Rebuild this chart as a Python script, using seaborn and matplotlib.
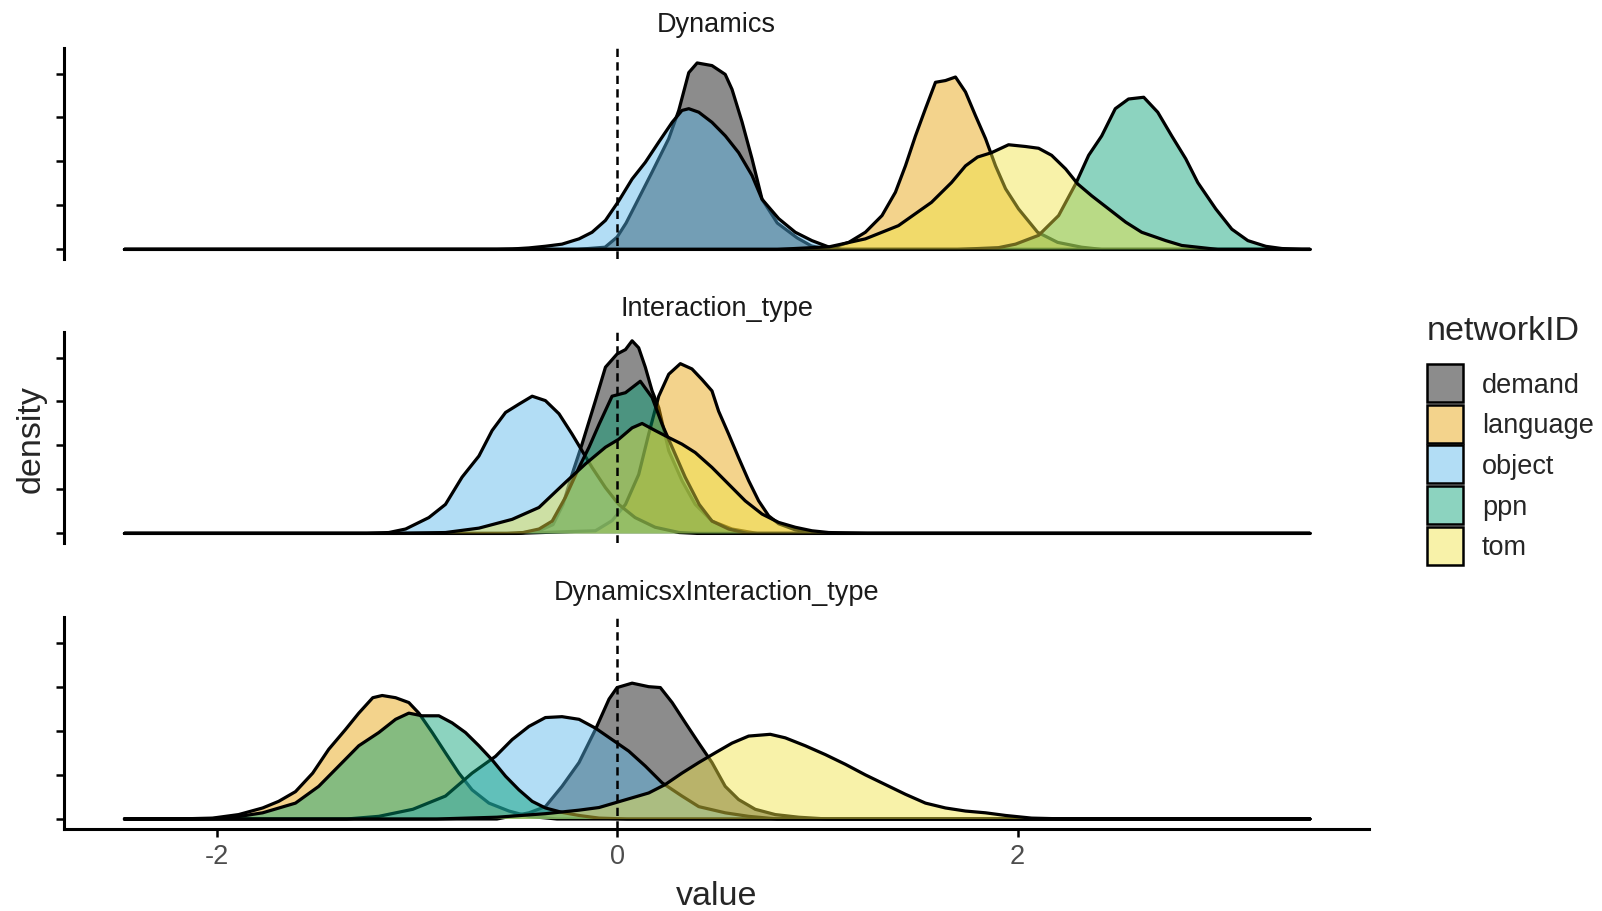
import numpy as np
import pandas as pd
import matplotlib
matplotlib.use("Agg")
import matplotlib.pyplot as plt
from matplotlib.patches import Patch
from matplotlib.colors import to_rgba
import seaborn as sns

# ---------------- data ----------------
panels = ["Dynamics", "Interaction_type", "DynamicsxInteraction_type"]
groups = ["demand", "language", "object", "ppn", "tom"]
group_colors = ["#000000", "#E69F00", "#56B4E9", "#009E73", "#F0E442"]
x_ticks = [-2, 0, 2]
x_tick_labels = ["-2", "0", "2"]
y_ticks = [0, 0.5, 1.0, 1.5, 2.0]
value_range = (-2.46, 3.46)
ref_line = 0

# Dynamics
dyn_demand_x = [-0.2, -0.06, 0.0, 0.045, 0.09, 0.175, 0.258, 0.308, 0.358, 0.40, 0.474, 0.54, 0.574, 0.624, 0.674, 0.724, 0.80, 0.90, 0.97, 1.05]
dyn_demand_y = [0.0, 0.025, 0.14, 0.30, 0.50, 0.88, 1.26, 1.58, 2.01, 2.12, 2.09, 1.99, 1.82, 1.45, 1.03, 0.57, 0.30, 0.13, 0.04, 0.0]
dyn_language_x = [0.95, 1.06, 1.157, 1.24, 1.323, 1.39, 1.44, 1.49, 1.54, 1.59, 1.64, 1.69, 1.74, 1.79, 1.84, 1.89, 1.94, 2.005, 2.10, 2.20, 2.32, 2.42]
dyn_language_y = [0.0, 0.01, 0.08, 0.195, 0.385, 0.65, 0.95, 1.29, 1.60, 1.90, 1.92, 1.96, 1.79, 1.52, 1.26, 0.95, 0.69, 0.46, 0.195, 0.08, 0.025, 0.0]
dyn_object_x = [-0.6, -0.524, -0.44, -0.358, -0.275, -0.19, -0.125, -0.058, 0.008, 0.075, 0.141, 0.208, 0.275, 0.324, 0.358, 0.408, 0.474, 0.541, 0.607, 0.674, 0.724, 0.807, 0.89, 0.973, 1.06, 1.12]
dyn_object_y = [0.0, 0.005, 0.017, 0.036, 0.06, 0.12, 0.195, 0.33, 0.55, 0.80, 0.99, 1.22, 1.445, 1.58, 1.60, 1.56, 1.445, 1.29, 1.10, 0.84, 0.57, 0.35, 0.195, 0.10, 0.025, 0.0]
dyn_ppn_x = [1.7, 1.905, 1.99, 2.105, 2.205, 2.29, 2.355, 2.42, 2.488, 2.554, 2.63, 2.70, 2.77, 2.84, 2.90, 2.99, 3.07, 3.15, 3.24, 3.32, 3.42]
dyn_ppn_y = [0.0, 0.02, 0.06, 0.16, 0.385, 0.745, 1.07, 1.29, 1.60, 1.71, 1.73, 1.56, 1.29, 1.03, 0.76, 0.46, 0.23, 0.10, 0.035, 0.01, 0.0]
dyn_tom_x = [0.8, 1.06, 1.24, 1.405, 1.57, 1.67, 1.74, 1.80, 1.87, 1.955, 2.04, 2.105, 2.17, 2.24, 2.30, 2.37, 2.455, 2.54, 2.62, 2.74, 2.82, 3.0]
dyn_tom_y = [0.0, 0.03, 0.12, 0.27, 0.535, 0.76, 0.95, 1.05, 1.10, 1.19, 1.17, 1.15, 1.07, 0.915, 0.745, 0.61, 0.46, 0.31, 0.195, 0.10, 0.045, 0.0]

# Interaction_type
int_demand_x = [-0.5, -0.39, -0.32, -0.27, -0.225, -0.175, -0.108, -0.058, 0.0, 0.042, 0.075, 0.108, 0.141, 0.175, 0.208, 0.258, 0.324, 0.39, 0.474, 0.574, 0.7]
int_demand_y = [0.0, 0.03, 0.10, 0.33, 0.67, 1.015, 1.51, 1.89, 2.04, 2.09, 2.19, 2.11, 1.89, 1.62, 1.43, 0.94, 0.60, 0.33, 0.14, 0.05, 0.0]
int_language_x = [-0.5, -0.25, -0.108, -0.025, 0.042, 0.108, 0.158, 0.208, 0.258, 0.316, 0.374, 0.424, 0.474, 0.507, 0.557, 0.607, 0.657, 0.707, 0.757, 0.807, 0.89, 0.97, 1.1]
int_language_y = [0.0, 0.02, 0.03, 0.145, 0.33, 0.67, 1.13, 1.56, 1.81, 1.93, 1.87, 1.75, 1.62, 1.39, 1.13, 0.86, 0.60, 0.37, 0.20, 0.11, 0.04, 0.01, 0.0]
int_object_x = [-1.25, -1.14, -1.056, -0.94, -0.857, -0.774, -0.69, -0.624, -0.557, -0.49, -0.424, -0.358, -0.29, -0.225, -0.175, -0.125, -0.058, 0.008, 0.09, 0.19, 0.31, 0.4]
int_object_y = [0.0, 0.01, 0.05, 0.18, 0.33, 0.64, 0.88, 1.17, 1.375, 1.47, 1.56, 1.51, 1.36, 1.13, 0.94, 0.75, 0.52, 0.33, 0.18, 0.07, 0.01, 0.0]
int_ppn_x = [-0.55, -0.47, -0.39, -0.324, -0.258, -0.19, -0.14, -0.09, -0.025, 0.042, 0.116, 0.175, 0.225, 0.275, 0.34, 0.41, 0.474, 0.557, 0.65]
int_ppn_y = [0.0, 0.01, 0.05, 0.14, 0.41, 0.75, 0.98, 1.24, 1.56, 1.60, 1.73, 1.545, 1.24, 0.98, 0.64, 0.33, 0.14, 0.05, 0.0]
int_tom_x = [-1.1, -0.857, -0.69, -0.524, -0.39, -0.258, -0.158, -0.058, 0.008, 0.075, 0.125, 0.19, 0.258, 0.324, 0.39, 0.474, 0.557, 0.64, 0.724, 0.807, 0.89, 0.973, 1.057, 1.25]
int_tom_y = [0.0, 0.01, 0.06, 0.16, 0.295, 0.58, 0.79, 0.98, 1.07, 1.20, 1.25, 1.17, 1.09, 1.015, 0.92, 0.75, 0.56, 0.37, 0.22, 0.125, 0.07, 0.03, 0.01, 0.0]

# DynamicsxInteraction_type
dxi_demand_x = [-0.6, -0.44, -0.358, -0.275, -0.19, -0.108, -0.04, 0.0, 0.075, 0.158, 0.216, 0.275, 0.341, 0.408, 0.474, 0.54, 0.607, 0.69, 0.79, 0.907, 1.05]
dxi_demand_y = [0.0, 0.07, 0.14, 0.37, 0.64, 1.015, 1.36, 1.49, 1.54, 1.50, 1.49, 1.32, 1.09, 0.86, 0.64, 0.37, 0.22, 0.11, 0.05, 0.02, 0.0]
dxi_language_x = [-2.2, -2.02, -1.89, -1.77, -1.69, -1.606, -1.52, -1.44, -1.356, -1.29, -1.22, -1.173, -1.106, -1.04, -0.99, -0.923, -0.857, -0.79, -0.724, -0.64, -0.54, -0.44, -0.3]
dxi_language_y = [0.0, 0.01, 0.05, 0.125, 0.2, 0.31, 0.52, 0.79, 1.015, 1.20, 1.375, 1.40, 1.375, 1.32, 1.20, 0.98, 0.75, 0.52, 0.33, 0.18, 0.09, 0.03, 0.0]
dxi_object_x = [-1.35, -1.19, -1.02, -0.857, -0.724, -0.607, -0.524, -0.44, -0.358, -0.275, -0.19, -0.108, -0.025, 0.058, 0.141, 0.225, 0.324, 0.408, 0.54, 0.657, 0.8]
dxi_object_y = [0.0, 0.03, 0.11, 0.26, 0.52, 0.71, 0.90, 1.05, 1.15, 1.16, 1.13, 1.03, 0.90, 0.77, 0.60, 0.41, 0.26, 0.14, 0.07, 0.03, 0.0]
dxi_ppn_x = [-2.1, -1.94, -1.77, -1.606, -1.49, -1.39, -1.29, -1.19, -1.106, -1.04, -0.973, -0.89, -0.824, -0.757, -0.69, -0.624, -0.557, -0.49, -0.424, -0.358, -0.275, -0.19, -0.09, 0.05]
dxi_ppn_y = [0.0, 0.01, 0.07, 0.18, 0.37, 0.60, 0.83, 0.98, 1.13, 1.20, 1.17, 1.17, 1.09, 0.98, 0.83, 0.67, 0.485, 0.33, 0.20, 0.125, 0.075, 0.04, 0.01, 0.0]
dxi_tom_x = [-0.9, -0.6, -0.358, -0.19, -0.09, 0.0, 0.158, 0.24, 0.324, 0.408, 0.49, 0.574, 0.657, 0.765, 0.84, 0.94, 1.04, 1.14, 1.24, 1.34, 1.44, 1.54, 1.64, 1.74, 1.84, 1.94, 2.07, 2.25]
dxi_tom_y = [0.0, 0.02, 0.06, 0.10, 0.13, 0.19, 0.295, 0.39, 0.52, 0.64, 0.75, 0.86, 0.94, 0.96, 0.92, 0.83, 0.73, 0.62, 0.50, 0.39, 0.28, 0.18, 0.125, 0.09, 0.07, 0.04, 0.01, 0.0]

curves = {
    ("Dynamics", "demand"): (dyn_demand_x, dyn_demand_y),
    ("Dynamics", "language"): (dyn_language_x, dyn_language_y),
    ("Dynamics", "object"): (dyn_object_x, dyn_object_y),
    ("Dynamics", "ppn"): (dyn_ppn_x, dyn_ppn_y),
    ("Dynamics", "tom"): (dyn_tom_x, dyn_tom_y),
    ("Interaction_type", "demand"): (int_demand_x, int_demand_y),
    ("Interaction_type", "language"): (int_language_x, int_language_y),
    ("Interaction_type", "object"): (int_object_x, int_object_y),
    ("Interaction_type", "ppn"): (int_ppn_x, int_ppn_y),
    ("Interaction_type", "tom"): (int_tom_x, int_tom_y),
    ("DynamicsxInteraction_type", "demand"): (dxi_demand_x, dxi_demand_y),
    ("DynamicsxInteraction_type", "language"): (dxi_language_x, dxi_language_y),
    ("DynamicsxInteraction_type", "object"): (dxi_object_x, dxi_object_y),
    ("DynamicsxInteraction_type", "ppn"): (dxi_ppn_x, dxi_ppn_y),
    ("DynamicsxInteraction_type", "tom"): (dxi_tom_x, dxi_tom_y),
}

rows = []
for (panel, grp), (xs, ys) in curves.items():
    assert len(xs) == len(ys), (panel, grp)
    xs_full = [value_range[0]] + list(xs) + [value_range[1]]
    ys_full = [0.0] + list(ys) + [0.0]
    for xv, yv in zip(xs_full, ys_full):
        rows.append({"panel": panel, "networkID": grp, "value": xv, "density": yv})
df = pd.DataFrame(rows)

# ---------------- style ----------------
sns.set_theme(style="ticks")
plt.rcParams["font.family"] = ["Liberation Sans", "DejaVu Sans"]

W, H = 1602, 912
fig = plt.figure(figsize=(W / 100, H / 100), dpi=100)

ALPHA = 0.45
LW = 2.3
left_px, right_px = 64.4, 1369.0
panel_px = [(49.0, 260.0), (333.0, 544.0), (618.0, 829.6)]
title_px = [24.5, 309.0, 593.5]
xlim = (-2.76, 3.755)
ylim = (-0.109, 2.29)

axes = []
for i, panel in enumerate(panels):
    top, bot = panel_px[i]
    ax = fig.add_axes([left_px / W, 1 - bot / H, (right_px - left_px) / W, (bot - top) / H])
    axes.append(ax)
    sub_panel = df[df["panel"] == panel]
    for k, (grp, col) in enumerate(zip(groups, group_colors)):
        sub = sub_panel[sub_panel["networkID"] == grp]
        ax.fill_between(sub["value"], 0, sub["density"], facecolor=to_rgba(col, ALPHA),
                        edgecolor="none", linewidth=0, zorder=2 * k + 1)
        sns.lineplot(data=sub, x="value", y="density", color="black", linewidth=LW,
                     estimator=None, sort=False, legend=False, ax=ax, zorder=2 * k + 2,
                     solid_joinstyle="round")
    ax.axvline(ref_line, color="black", linewidth=1.8, linestyle=(0, (3.3, 2.1)), zorder=20)
    ax.set_xlim(*xlim)
    ax.set_ylim(*ylim)
    ax.set_yticks(y_ticks)
    ax.set_yticklabels([])
    ax.set_xlabel("")
    ax.set_ylabel("")
    ax.set_facecolor("white")
    for s in ["top", "right"]:
        ax.spines[s].set_visible(False)
    ax.spines["left"].set_linewidth(2.2)
    ax.spines["left"].set_color("black")
    ax.tick_params(axis="y", length=5.5, width=1.8, color="black", direction="out")
    if i < len(panels) - 1:
        ax.spines["bottom"].set_visible(False)
        ax.tick_params(axis="x", bottom=False, labelbottom=False)
    else:
        ax.spines["bottom"].set_linewidth(2.2)
        ax.spines["bottom"].set_color("black")
        ax.set_xticks(x_ticks)
        ax.set_xticklabels(x_tick_labels)
        ax.tick_params(axis="x", length=5.5, width=1.8, color="black", pad=5,
                       labelsize=19.5, labelcolor="#4D4D4D")
    fig.text((left_px + right_px) / 2 / W, 1 - title_px[i] / H, panel, ha="center", va="center",
             fontsize=19.5, color="#1A1A1A")

fig.text((left_px + right_px) / 2 / W, 1 - 897 / H, "value", ha="center", va="center", fontsize=24.5)
fig.text(31 / W, 1 - 439 / H, "density", ha="center", va="center", rotation=90, fontsize=24.5)

# legend (title placed separately, left aligned like ggplot)
fig.text(1427 / W, 1 - 332 / H, "networkID", ha="left", va="center", fontsize=24.5)
handles = [Patch(facecolor=to_rgba(c, ALPHA), edgecolor="black", linewidth=1.8) for c in group_colors]
fig.legend(handles=handles, labels=groups, loc="upper left",
           bbox_to_anchor=(1427 / W, 1 - 365 / H), frameon=False, fontsize=19.5,
           handlelength=1.32, handleheight=1.78, labelspacing=0.1,
           handletextpad=0.7, borderpad=0, borderaxespad=0)

fig.savefig("out.png", dpi=100, facecolor="white")
